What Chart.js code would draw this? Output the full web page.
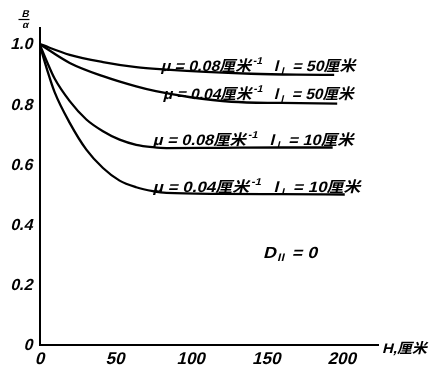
<!DOCTYPE html>
<html><head><meta charset="utf-8">
<script src="https://cdn.jsdelivr.net/npm/chart.js@4"></script>
<style>html,body{margin:0;padding:0;background:#fff}#wrap{width:434px;height:367px}</style>
</head><body><div id="wrap"><canvas id="c" width="434" height="367"></canvas></div>
<script>
// ---- data ----
const xTicks = [0, 50, 100, 150, 200];
const yTicks = [0, 0.2, 0.4, 0.6, 0.8, 1.0];
const yTickLabels = ['0', '0.2', '0.4', '0.6', '0.8', '1.0'];

// μ=0.08, lⅠ=50
const h1 = [0, 20, 42, 64, 84, 110, 140, 170, 195];
const curve1 = [1.0, 0.964, 0.94, 0.923, 0.915, 0.907, 0.901, 0.898, 0.897];
// μ=0.04, lⅠ=50
const h2 = [0, 20, 42, 64, 77, 100, 127, 160, 197];
const curve2 = [1.0, 0.937, 0.893, 0.859, 0.843, 0.823, 0.808, 0.804, 0.802];
// μ=0.08, lⅠ=10
const h3 = [0, 5, 10, 20, 31, 42, 53, 64, 75, 84, 120, 160, 194];
const curve3 = [1.0, 0.94, 0.885, 0.81, 0.749, 0.71, 0.682, 0.665, 0.657, 0.654, 0.655, 0.656, 0.656];
// μ=0.04, lⅠ=10
const h4 = [0, 5, 10, 20, 31, 42, 53, 64, 75, 84, 120, 160, 202];
const curve4 = [1.0, 0.915, 0.84, 0.738, 0.649, 0.588, 0.546, 0.524, 0.511, 0.505, 0.502, 0.501, 0.5];

const curveLabels = [
  {mu: '0.08', l: '50'},
  {mu: '0.04', l: '50'},
  {mu: '0.08', l: '10'},
  {mu: '0.04', l: '10'}
];

const FAM = '"Liberation Sans", "Noto Sans CJK SC", sans-serif';
const SKEW = -0.25;

function pts(h, v) { return h.map((x, i) => ({x: x, y: v[i]})); }

function drawRich(ctx, x, yBase, segs, targetW) {
  let total = 0;
  const ws = segs.map(s => {
    ctx.font = 'bold ' + s.s + 'px ' + FAM;
    const w = ctx.measureText(s.t).width;
    total += w;
    return w;
  });
  const k = targetW ? targetW / total : 1;
  ctx.save();
  ctx.translate(x, yBase);
  ctx.transform(k, 0, SKEW, 1, 0, 0);
  ctx.fillStyle = '#000';
  ctx.textBaseline = 'alphabetic';
  ctx.textAlign = 'left';
  let cx = 0;
  segs.forEach((s, i) => {
    ctx.font = 'bold ' + s.s + 'px ' + FAM;
    ctx.fillText(s.t, cx, s.dy || 0);
    cx += ws[i];
  });
  ctx.restore();
}

function slanted(ctx, text, x, y, align) {
  ctx.save();
  ctx.translate(x, y);
  ctx.transform(1, 0, SKEW, 1, 0, 0);
  ctx.textAlign = align;
  ctx.fillText(text, 0, 0);
  ctx.restore();
}

const annot = {
  id: 'annot',
  afterDraw(chart) {
    const ctx = chart.ctx;
    const xs = chart.scales.x, ys = chart.scales.y;
    const area = chart.chartArea;

    // slanted tick labels, placed through the library's scales
    ctx.save();
    ctx.fillStyle = '#000';
    ctx.font = 'bold 16px ' + FAM;
    ctx.textBaseline = 'middle';
    ys.ticks.forEach(t => {
      const i = yTicks.findIndex(v => Math.abs(v - t.value) < 1e-6);
      slanted(ctx, i >= 0 ? yTickLabels[i] : '', area.left - 6, ys.getPixelForValue(t.value) + 1, 'right');
    });
    ctx.font = 'bold 17px ' + FAM;
    ctx.textBaseline = 'alphabetic';
    xs.ticks.forEach(t => {
      slanted(ctx, String(t.value), xs.getPixelForValue(t.value), area.bottom + 19, 'center');
    });
    ctx.restore();

    // y-axis title B/α
    ctx.save();
    ctx.fillStyle = '#000';
    ctx.font = 'bold 10px ' + FAM;
    ctx.textBaseline = 'alphabetic';
    slanted(ctx, 'B', 25, 17, 'center');
    slanted(ctx, 'α', 25, 28, 'center');
    ctx.strokeStyle = '#000';
    ctx.lineWidth = 1.2;
    ctx.beginPath(); ctx.moveTo(18.5, 19.5); ctx.lineTo(29.5, 19.5); ctx.stroke();
    ctx.restore();

    // curve labels
    const lastVals = [curve1[curve1.length-1], curve2[curve2.length-1], curve3[curve3.length-1], curve4[curve4.length-1]];
    const startH = [80, 81.5, 74.8, 74.8];
    const widths = [195, 191, 201, 208];
    const offs = [4, 5, 3, 2];
    curveLabels.forEach((c, i) => {
      const x = xs.getPixelForValue(startH[i]);
      const y = ys.getPixelForValue(lastVals[i]) - offs[i];
      drawRich(ctx, x, y, [
        {t: 'μ = ' + c.mu + '厘米', s: 15},
        {t: '-1', s: 10, dy: -7},
        {t: '   l', s: 15},
        {t: 'Ⅰ', s: 9, dy: 3},
        {t: ' = ' + c.l + '厘米', s: 15}
      ], widths[i]);
    });

    // D_II = 0
    drawRich(ctx, 263, 258, [
      {t: 'D', s: 16},
      {t: 'Ⅱ', s: 10, dy: 3},
      {t: ' = 0', s: 16}
    ], 54);

    // x-axis title
    drawRich(ctx, 382, 353, [{t: 'H,厘米', s: 14}], 45);
  }
};

new Chart(document.getElementById('c'), {
  type: 'line',
  data: {
    datasets: [
      {data: pts(h1, curve1)},
      {data: pts(h2, curve2)},
      {data: pts(h3, curve3)},
      {data: pts(h4, curve4)}
    ].map(d => Object.assign(d, {
      borderColor: '#000', borderWidth: 2.3, pointRadius: 0,
      cubicInterpolationMode: 'monotone', fill: false
    }))
  },
  options: {
    responsive: false,
    animation: false,
    devicePixelRatio: 1,
    layout: {padding: {top: 28, right: 56, left: 0, bottom: 0}},
    plugins: {legend: {display: false}, tooltip: {enabled: false}},
    scales: {
      x: {
        type: 'linear', min: 0, max: 224,
        grid: {display: false, drawTicks: false},
        border: {display: true, color: '#000', width: 2},
        afterBuildTicks: s => { s.ticks = xTicks.map(v => ({value: v})); },
        afterFit: s => { s.height = 22; },
        ticks: {color: 'rgba(0,0,0,0)', padding: 4, maxRotation: 0, autoSkip: false,
          font: {family: FAM, size: 17},
          callback: v => String(v)}
      },
      y: {
        type: 'linear', min: 0, max: 1.053,
        grid: {display: false, drawTicks: false},
        border: {display: true, color: '#000', width: 2},
        afterBuildTicks: s => { s.ticks = yTicks.map(v => ({value: v})); },
        afterFit: s => { s.width = 39.5; },
        ticks: {color: 'rgba(0,0,0,0)', padding: 6, autoSkip: false,
          font: {family: FAM, size: 16},
          callback: (v) => { const i = yTicks.findIndex(t => Math.abs(t - v) < 1e-6); return i >= 0 ? yTickLabels[i] : ''; }}
      }
    }
  },
  plugins: [annot]
});
</script>
</body></html>
